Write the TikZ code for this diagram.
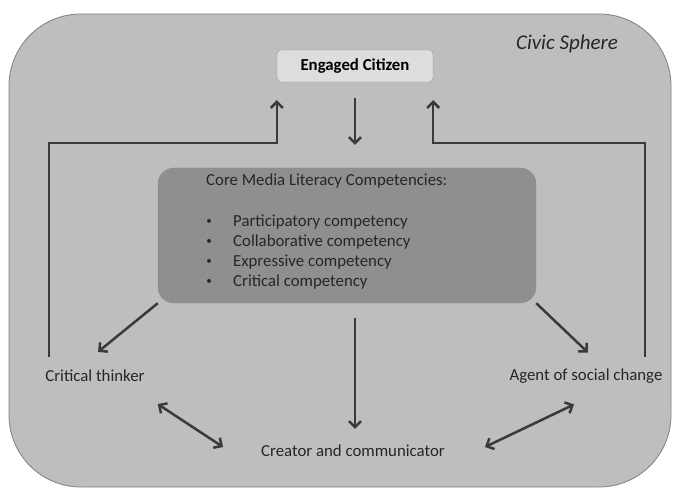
\documentclass[tikz,border=0pt]{standalone}
\usepackage{fontspec}
\setmainfont{Carlito}
\usetikzlibrary{arrows.meta}
\definecolor{sphere}{HTML}{BEBEBE}
\definecolor{corefill}{HTML}{8F8F8F}
\definecolor{citfill}{HTML}{DDDDDD}
\definecolor{ink}{HTML}{3A3A3A}
\begin{document}
\begin{tikzpicture}[x=1pt,y=-1pt,
	arr/.style={draw=ink,line width=2.5pt,-{Straight Barb[length=6pt,width=12pt,line width=2.5pt]}},
	darr/.style={arr,{Straight Barb[length=6pt,width=12pt,line width=2.5pt]}-{Straight Barb[length=6pt,width=12pt,line width=2.5pt]}},
	lbl/.style={inner sep=0pt,text=black!85,font=\fontsize{16.8}{20}\selectfont}]
	\useasboundingbox[fill=white] (0,0) rectangle (673,489);
	\draw[fill=sphere,draw=black!50,line width=0.8pt,rounded corners=72pt] (9,14) rectangle (671,487);
	\node[lbl,font=\fontsize{21}{24}\selectfont\itshape] (civic) at (567,44) {Civic Sphere};
	\node[draw=black!40,fill=citfill,rounded corners=4pt,minimum width=156pt,minimum height=32pt,font=\fontsize{16.8}{20}\selectfont\bfseries] (engaged) at (355,66) {Engaged Citizen};
	\node[draw=black!45,fill=corefill,rounded corners=16pt,minimum width=378pt,minimum height=135pt] (core) at (347,235.5) {};
	\node[lbl,anchor=west] (coretitle) at (206,181) {Core Media Literacy Competencies:};
	\foreach \item [count=\i from 0] in {Participatory competency,Collaborative competency,Expressive competency,Critical competency}{
		\node[lbl,font=\fontsize{11}{12}\selectfont] (dot\i) at (209,222+20*\i) {•};
		\node[lbl,anchor=west] (item\i) at (233,222+20*\i) {\item};
	}
	\node[lbl] (crit) at (95,376) {Critical thinker};
	\node[lbl] (agent) at (586,376) {Agent of social change};
	\node[lbl] (creator) at (353,451) {Creator and communicator};
	\coordinate (critup) at (49,357);
	\coordinate (agentup) at (645,357);
	\draw[arr] ([yshift=-16pt]engaged.south) -- ([yshift=23pt]engaged.south |- core.north);
	\draw[arr] (critup) |- ([yshift=-61pt]engaged.south west) -- ([yshift=-18pt]engaged.south west);
	\draw[arr] (agentup) |- ([yshift=-61pt]engaged.south east) -- ([yshift=-18pt]engaged.south east);
	\draw[arr] (core.south west) -- ([shift={(3pt,18pt)}]crit.north);
	\draw[arr] (core.south east) -- ([shift={(2pt,16pt)}]agent.north);
	\draw[arr] ([yshift=-15pt]engaged.south |- core.south) -- ([yshift=16pt]engaged.south |- creator.north);
	\draw[darr] ([shift={(13pt,-22pt)}]crit.south east) -- ([shift={(-38pt,4pt)}]creator.west);
	\draw[darr] ([shift={(-12pt,-21pt)}]agent.south) -- ([shift={(40pt,4pt)}]creator.east);
\end{tikzpicture}
\end{document}
